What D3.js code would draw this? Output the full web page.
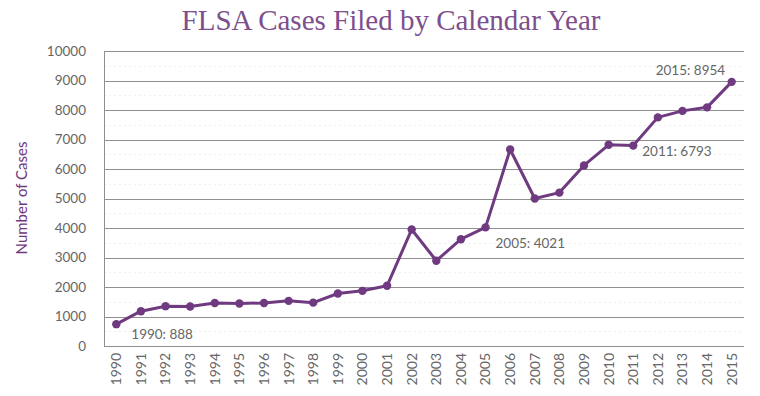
<!DOCTYPE html>
<html>
<head>
<meta charset="utf-8">
<script src="https://cdn.jsdelivr.net/npm/d3@7"></script>
<style>
  body { margin: 0; background: #fff; }
  text { font-family: Lato, "Open Sans", sans-serif; }
</style>
</head>
<body>
<script>
// data
const years = d3.range(1990, 2016).map(String);
const cases = [740, 1180, 1350, 1340, 1460, 1440, 1460, 1530, 1470, 1780, 1870, 2040,
               3950, 2890, 3620, 4021, 6660, 5000, 5200, 6120, 6820, 6793, 7750, 7970, 8090, 8954];
const yTicks = [0, 1000, 2000, 3000, 4000, 5000, 6000, 7000, 8000, 9000, 10000];
const notes = [
  {year: "1990", text: "1990: 888", dx: 15, dy: 10},
  {year: "2005", text: "2005: 4021", dx: 10, dy: 16},
  {year: "2011", text: "2011: 6793", dx: 9, dy: 6},
  {year: "2015", text: "2015: 8954", dx: -76, dy: -12}
];

const width = 760, height = 396;
const plot = {left: 104, right: 744, top: 51, bottom: 346};
const purple = "#6f3a80";
const grid = "#8f8f8f";

const svg = d3.select("body").append("svg")
  .attr("width", width)
  .attr("height", height);

const x = d3.scaleBand().domain(years).range([plot.left, plot.right]);
const y = d3.scaleLinear().domain([0, 10000]).range([plot.bottom, plot.top]);
const cx = yr => x(yr) + x.bandwidth() / 2;

// title
svg.append("text")
  .attr("x", 391)
  .attr("y", 30)
  .attr("text-anchor", "middle")
  .style("font-family", "'Liberation Serif', serif")
  .style("font-size", "29px")
  .attr("fill", "#7d4f8d")
  .text("FLSA Cases Filed by Calendar Year");

// faint half-step lines
svg.append("g").selectAll("line")
  .data(yTicks.slice(0, -1).map(d => d + 500))
  .enter().append("line")
  .attr("x1", plot.left).attr("x2", plot.right)
  .attr("y1", d => Math.round(y(d)) + 0.5).attr("y2", d => Math.round(y(d)) + 0.5)
  .attr("stroke", "#f0f0f0")
  .attr("stroke-dasharray", "2,3");

// gridlines
svg.append("g").selectAll("line")
  .data(yTicks)
  .enter().append("line")
  .attr("x1", plot.left).attr("x2", plot.right)
  .attr("y1", d => Math.round(y(d)) + 0.5).attr("y2", d => Math.round(y(d)) + 0.5)
  .attr("stroke", grid);

// left axis line
svg.append("line")
  .attr("x1", plot.left + 0.5).attr("x2", plot.left + 0.5)
  .attr("y1", Math.round(y(10000))).attr("y2", Math.round(y(0)) + 1)
  .attr("stroke", grid);

// y tick labels
const yAxis = svg.append("g")
  .attr("transform", "translate(" + (plot.left - 18) + ",0)")
  .call(d3.axisLeft(y).tickValues(yTicks).tickFormat(d3.format("d")).tickSize(0).tickPadding(0));
yAxis.select(".domain").remove();
yAxis.selectAll("text")
  .attr("fill", "#666")
  .style("font-size", "13.5px")
  .style("font-family", "Lato, sans-serif");

// x tick labels, rotated
const xAxis = svg.append("g")
  .attr("transform", "translate(0," + (plot.bottom + 6) + ")")
  .call(d3.axisBottom(x).tickSize(0).tickPadding(0));
xAxis.select(".domain").remove();
xAxis.selectAll(".tick text")
  .attr("fill", "#666")
  .style("font-size", "14px")
  .style("font-family", "Lato, sans-serif")
  .attr("text-anchor", "end")
  .attr("x", -1)
  .attr("y", 0)
  .attr("dy", "0.35em")
  .attr("transform", "rotate(-90)");

// y axis title
svg.append("text")
  .attr("transform", "translate(27,198) rotate(-90)")
  .attr("text-anchor", "middle")
  .attr("fill", "#70387f")
  .style("font-size", "15px")
  .text("Number of Cases");

// line
const line = d3.line()
  .x((d, i) => cx(years[i]))
  .y(d => y(d));

svg.append("path")
  .datum(cases)
  .attr("fill", "none")
  .attr("stroke", purple)
  .attr("stroke-width", 3)
  .attr("stroke-linejoin", "round")
  .attr("d", line);

svg.append("g").selectAll("circle")
  .data(cases)
  .enter().append("circle")
  .attr("cx", (d, i) => cx(years[i]))
  .attr("cy", d => y(d))
  .attr("r", 4.2)
  .attr("fill", purple);

// point labels
svg.append("g").selectAll("text")
  .data(notes)
  .enter().append("text")
  .attr("x", d => cx(d.year) + d.dx)
  .attr("y", d => y(cases[years.indexOf(d.year)]) + d.dy)
  .attr("dy", "0.35em")
  .attr("fill", "#666")
  .style("font-size", "13.5px")
  .text(d => d.text);
</script>
</body>
</html>
